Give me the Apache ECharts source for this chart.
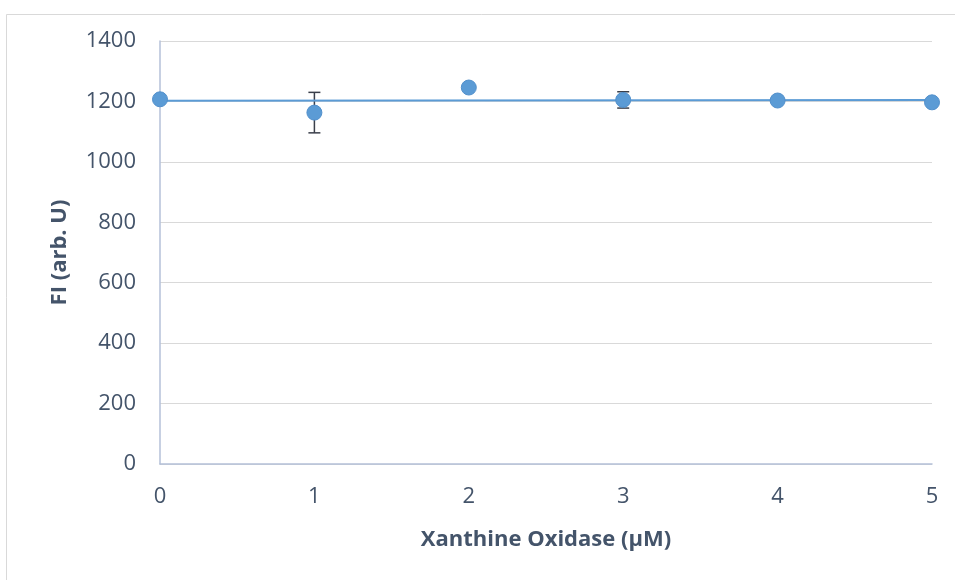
<!DOCTYPE html>
<html>
<head>
<meta charset="utf-8">
<script src="https://cdn.jsdelivr.net/npm/echarts@6/dist/echarts.min.js"></script>
<style>html,body{margin:0;padding:0;background:#fff;}#c{width:955px;height:580px;}</style>
</head>
<body>
<div id="c"></div>
<script>
var xValues = [0, 1, 2, 3, 4, 5];
var yValues = [1207, 1163, 1246, 1205, 1203, 1197];
var yErrors = [6, 67, 8, 27, 6, 4];
var trendX = [0, 5];
var trendY = [1202, 1205];
var yTicks = [0, 200, 400, 600, 800, 1000, 1200, 1400];

var textColor = '#44546A';
var font = '"Open Sans", sans-serif';

var pts = xValues.map(function (x, i) { return [x, yValues[i]]; });
var errs = xValues.map(function (x, i) { return [x, yValues[i] - yErrors[i], yValues[i] + yErrors[i]]; });
var trend = trendX.map(function (x, i) { return [x, trendY[i]]; });

var chart = echarts.init(document.getElementById('c'));
chart.setOption({
  animation: false,
  backgroundColor: '#fff',
  graphic: [{
    type: 'rect', left: 4, top: 12, silent: true,
    shape: { x: 0, y: 0, width: 1000, height: 600 },
    style: { fill: 'none', stroke: '#D9D9D9', lineWidth: 1 }, z: -10
  }],
  grid: { left: 160, right: 23, top: 41, bottom: 116 },
  xAxis: {
    type: 'value', min: 0, max: 5, interval: 1,
    name: 'Xanthine Oxidase (µM)', nameLocation: 'middle', nameGap: 65,
    nameTextStyle: { color: textColor, fontSize: 22, fontWeight: 'bold', fontFamily: font },
    axisLine: { show: true, lineStyle: { color: '#B4C0D8', width: 1.5 } },
    axisTick: { show: false },
    axisLabel: { color: textColor, fontSize: 22, fontFamily: font, margin: 22 },
    splitLine: { show: false }
  },
  yAxis: {
    type: 'value', min: 0, max: 1400, interval: 200,
    name: 'FI (arb. U)', nameLocation: 'middle', nameGap: 89,
    nameTextStyle: { color: textColor, fontSize: 22, fontWeight: 'bold', fontFamily: font },
    axisLine: { show: true, lineStyle: { color: '#B4C0D8', width: 1.5 } },
    axisTick: { show: false },
    axisLabel: {
      color: textColor, fontSize: 22, fontFamily: font, margin: 24,
      formatter: function (v) { return yTicks.indexOf(v) >= 0 ? String(v) : ''; }
    },
    splitLine: { show: true, lineStyle: { color: '#D9D9D9', width: 1 } }
  },
  series: [
    {
      type: 'custom', name: 'err', data: errs, z: 2,
      renderItem: function (params, api) {
        var x = api.value(0);
        var lo = api.coord([x, api.value(1)]);
        var hi = api.coord([x, api.value(2)]);
        var cw = 6;
        var st = { stroke: '#3A3F4A', lineWidth: 1.5 };
        return {
          type: 'group',
          children: [
            { type: 'line', shape: { x1: lo[0], y1: lo[1], x2: hi[0], y2: hi[1] }, style: st },
            { type: 'line', shape: { x1: lo[0] - cw, y1: lo[1], x2: lo[0] + cw, y2: lo[1] }, style: st },
            { type: 'line', shape: { x1: hi[0] - cw, y1: hi[1], x2: hi[0] + cw, y2: hi[1] }, style: st }
          ]
        };
      }
    },
    {
      type: 'line', name: 'trend', data: trend, symbol: 'none', z: 3,
      lineStyle: { color: '#5B9BD5', width: 2 }
    },
    {
      type: 'scatter', name: 'FI', data: pts, z: 4,
      symbol: 'circle', symbolSize: 15,
      itemStyle: { color: '#5B9BD5', opacity: 1, borderColor: '#5290CC', borderWidth: 1 }
    }
  ]
});
</script>
</body>
</html>
